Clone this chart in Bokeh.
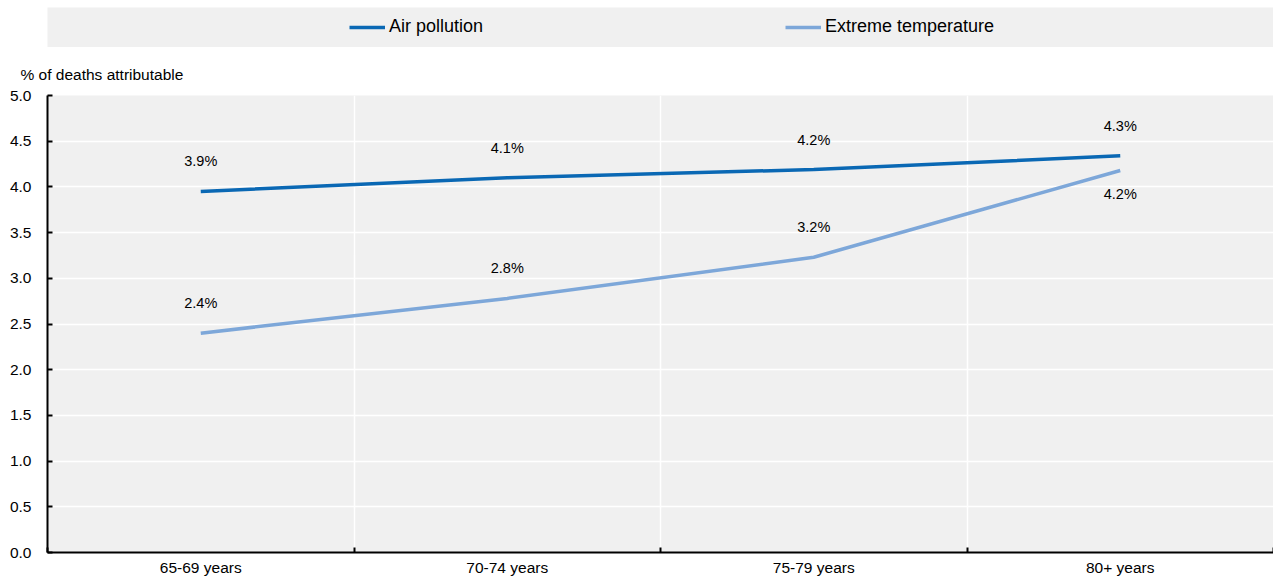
import numpy as np
from bokeh.plotting import figure
from bokeh.models import (ColumnDataSource, Range1d, FixedTicker, LabelSet, Legend, Title)
from bokeh.core.properties import value
from bokeh.layouts import column
from bokeh.embed import file_html
from bokeh.resources import INLINE

categories = ["65-69 years", "70-74 years", "75-79 years", "80+ years"]
air_pollution = [3.95, 4.10, 4.19, 4.34]
extreme_temperature = [2.40, 2.78, 3.23, 4.18]
air_labels = ["3.9%", "4.1%", "4.2%", "4.3%"]
ext_labels = ["2.4%", "2.8%", "3.2%", "4.2%"]
y_ticks = [0.0, 0.5, 1.0, 1.5, 2.0, 2.5, 3.0, 3.5, 4.0, 4.5, 5.0]

AIR_COLOR = "#0A68B4"
EXT_COLOR = "#7DA7D9"
BG = "#F0F0F0"
FONT = "Liberation Sans"

W = 1273
LEFT = 47

xs = np.arange(len(categories)) + 0.5
bounds = list(np.arange(len(categories) + 1).astype(float))

src = ColumnDataSource(dict(x=xs, air=air_pollution, ext=extreme_temperature,
                            air_lab=air_labels, ext_lab=ext_labels,
                            ext_off=[30, 30, 30, -24]))

# ---- legend band ----
leg = figure(width=W, height=47, output_backend="svg", toolbar_location=None,
             x_axis_type=None, y_axis_type=None,
             x_range=Range1d(0, 1), y_range=Range1d(0, 1),
             min_border_left=LEFT - 1, min_border_right=0, min_border_top=7, min_border_bottom=0)
leg.background_fill_color = BG
leg.outline_line_color = None
leg.grid.visible = False
r1 = leg.line("x", "air", source=src, line_color=AIR_COLOR, line_width=3.5)
r2 = leg.line("x", "ext", source=src, line_color=EXT_COLOR, line_width=3.5)
r1.visible = False
r2.visible = False
legend = Legend(items=[("Air pollution", [r1]), ("Extreme temperature", [r2])],
                orientation="horizontal", location=(302, 10), click_policy="none",
                background_fill_alpha=0, border_line_color=None, inactive_fill_alpha=0,
                glyph_width=36, label_standoff=4, spacing=302, padding=0, margin=0,
                label_text_font=FONT, label_text_font_size="18px", label_text_color="#000000")
leg.add_layout(legend, "center")

# ---- main chart ----
p = figure(width=W, height=532, output_backend="svg", toolbar_location=None,
           x_range=Range1d(0, len(categories)), y_range=Range1d(0, 5),
           min_border_left=LEFT, min_border_right=0, min_border_top=48, min_border_bottom=27)
p.background_fill_color = BG
p.outline_line_color = None

p.line("x", "air", source=src, line_color=AIR_COLOR, line_width=3.5)
p.line("x", "ext", source=src, line_color=EXT_COLOR, line_width=3.5)

p.add_layout(LabelSet(x="x", y="air", text="air_lab", source=src, y_offset=30,
                      text_align="center", text_baseline="middle",
                      text_font=value(FONT), text_font_size=value("14.5px"),
                      text_color="#000000"))
p.add_layout(LabelSet(x="x", y="ext", text="ext_lab", source=src, y_offset="ext_off",
                      text_align="center", text_baseline="middle",
                      text_font=value(FONT), text_font_size=value("14.5px"),
                      text_color="#000000"))

# axes
p.xaxis.ticker = FixedTicker(ticks=list(xs), minor_ticks=bounds)
p.xaxis.major_label_overrides = {float(x): c for x, c in zip(xs, categories)}
p.xaxis.major_tick_in = 0
p.xaxis.major_tick_out = 0
p.xaxis.minor_tick_in = 5
p.xaxis.minor_tick_out = 0
p.xaxis.minor_tick_line_color = "black"
p.xaxis.minor_tick_line_width = 2
p.xaxis.axis_line_color = "black"
p.xaxis.axis_line_width = 2
p.xaxis.major_label_standoff = 6
p.xaxis.major_label_text_font = FONT
p.xaxis.major_label_text_font_size = "15.5px"
p.xaxis.major_label_text_color = "#000000"

p.yaxis.ticker = FixedTicker(ticks=y_ticks)
p.yaxis.major_label_overrides = {t: f"{t:.1f}" for t in y_ticks}
p.yaxis.major_tick_in = 5
p.yaxis.major_tick_out = 0
p.yaxis.minor_tick_line_color = None
p.yaxis.major_tick_line_color = "black"
p.yaxis.major_tick_line_width = 2
p.yaxis.axis_line_color = "black"
p.yaxis.axis_line_width = 2
p.yaxis.major_label_standoff = 16
p.yaxis.major_label_text_font = FONT
p.yaxis.major_label_text_font_size = "15.5px"
p.yaxis.major_label_text_color = "#000000"

# grids
p.xgrid.ticker = FixedTicker(ticks=bounds[1:-1])
p.xgrid.grid_line_color = "white"
p.xgrid.grid_line_width = 1.5
p.ygrid.ticker = FixedTicker(ticks=y_ticks)
p.ygrid.grid_line_color = "white"
p.ygrid.grid_line_width = 1.5

p.title = Title(text="% of deaths attributable", align="left", offset=-27,
                text_font=FONT, text_font_size="15.5px", text_font_style="normal",
                text_color="#000000", standoff=25)

layout = column(leg, p, spacing=0)
open("out.html", "w").write(file_html(layout, INLINE))
